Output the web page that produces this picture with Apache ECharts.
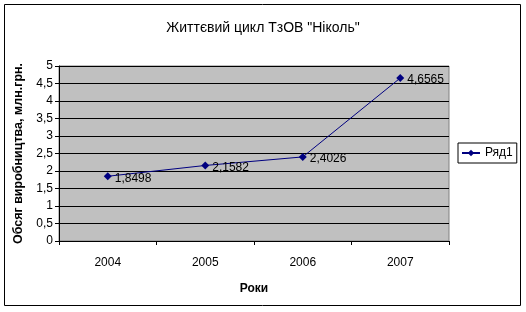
<!DOCTYPE html>
<html><head><meta charset="utf-8">
<script src="https://cdn.jsdelivr.net/npm/echarts@6/dist/echarts.min.js"></script>
<style>html,body{margin:0;padding:0;background:#fff}#c{width:526px;height:312px}</style>
</head><body><div id="c"></div>
<script>
var categories = ['2004', '2005', '2006', '2007'];
var values = [1.8498, 2.1582, 2.4026, 4.6565];
var seriesName = 'Ряд1';
var titleText = 'Життєвий цикл ТзОВ "Ніколь"';
var yName = 'Обсяг виробництва, млн.грн.';
var xName = 'Роки';

var fmt = function (v) { return String(v).replace('.', ','); };
var chart = echarts.init(document.getElementById('c'), null, {renderer: 'canvas'});
chart.setOption({
  animation: false,
  textStyle: {fontFamily: 'Arial, "Liberation Sans", sans-serif', color: '#000'},
  title: {text: titleText, left: 'center', top: 16,
    textStyle: {fontSize: 14, fontWeight: 'normal', color: '#000', fontFamily: 'Arial, "Liberation Sans", sans-serif'}},
  graphic: [{type: 'rect', shape: {x: 4.5, y: 4.5, width: 516, height: 301},
    style: {fill: null, stroke: '#000', lineWidth: 1}, silent: true}],
  grid: {left: 59, top: 66, width: 390, height: 175, show: true,
    backgroundColor: '#C0C0C0', borderColor: '#808080', borderWidth: 1},
  legend: {left: 458, top: 143, padding: [4, 4, 4, 3], itemGap: 4,
    borderColor: '#000', borderWidth: 1, itemWidth: 18, itemHeight: 8,
    textStyle: {fontSize: 12, color: '#000'}, data: [seriesName]},
  xAxis: {type: 'category', data: categories, boundaryGap: true,
    name: xName, nameLocation: 'middle', nameGap: 42,
    nameTextStyle: {fontSize: 12, fontWeight: 'bold', color: '#000'},
    axisLine: {lineStyle: {color: '#000', width: 1}},
    axisTick: {show: true, length: 4, lineStyle: {color: '#000'}},
    axisLabel: {fontSize: 12, color: '#000', margin: 16},
    splitLine: {show: false}},
  yAxis: {type: 'value', min: 0, max: 5, interval: 0.5,
    name: yName, nameLocation: 'middle', nameGap: 31, nameRotate: 90,
    nameTextStyle: {fontSize: 12.5, fontWeight: 'bold', color: '#000'},
    axisLine: {show: true, lineStyle: {color: '#000', width: 1}},
    axisTick: {show: true, length: 4, lineStyle: {color: '#000'}},
    axisLabel: {fontSize: 12, color: '#000', margin: 6, formatter: fmt},
    splitLine: {show: true, lineStyle: {color: '#000', width: 1}}},
  series: [{name: seriesName, type: 'line', data: values,
    symbol: 'diamond', symbolSize: 8,
    lineStyle: {color: '#000080', width: 1},
    itemStyle: {color: '#000080'},
    label: {show: true, position: 'right', distance: 3, offset: [0, 2],
      fontSize: 12, color: '#000', formatter: function (p) { return fmt(p.value); }}}]
});
</script></body></html>
